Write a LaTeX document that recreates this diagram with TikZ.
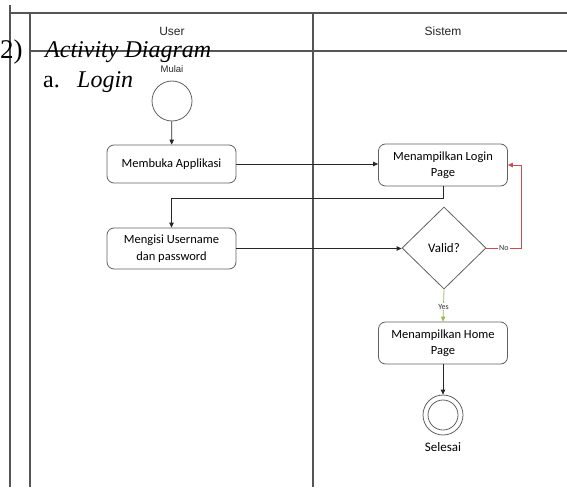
\documentclass[tikz,border=0pt]{standalone}
\usepackage{fontspec}
\usetikzlibrary{arrows.meta,shapes.geometric}
\newfontfamily\boxfont{Carlito}
\newfontfamily\lanefont{Liberation Sans}
\newfontfamily\docfont{Liberation Serif}
\definecolor{lanegray}{HTML}{555555}
\definecolor{boxgray}{HTML}{606060}
\definecolor{noline}{HTML}{C0504D}
\definecolor{yesline}{HTML}{9BBB59}
\tikzset{
  lane/.style={draw=lanegray, line width=1.2pt},
  action/.style={draw=boxgray, line width=0.8pt, rounded corners=7pt,
    minimum width=129pt, minimum height=40pt, align=center,
    font=\boxfont\fontsize{12.5}{16.5}\selectfont, inner sep=2pt},
  decision/.style={draw=boxgray, line width=0.8pt, diamond, aspect=1,
    minimum width=84pt, minimum height=82pt, inner sep=0pt,
    font=\boxfont\fontsize{13}{15}\selectfont},
  arr/.style={draw=black!85, line width=0.8pt, -{Triangle[length=5pt,width=4.5pt]}},
  guard/.style={fill=white, inner sep=1pt, text=black!80, font=\boxfont\fontsize{8}{9}\selectfont},
  heading/.style={anchor=base west, inner sep=0pt, font=\docfont\fontsize{24}{28}\selectfont},
  lanetitle/.style={inner sep=0pt, font=\lanefont\fontsize{12}{14}\selectfont, text=black!85}
}
\begin{document}
\begin{tikzpicture}[x=1pt, y=-1pt]
\useasboundingbox (0,0) rectangle (567,487);

% swimlane frame
\draw[lane] (10,5) -- (10,487);
\draw[lane] (10,13) -- (567,13);
\draw[lane] (30,13) -- (30,487);
\draw[lane] (30,51) -- (567,51);
\draw[lane] (313,13) -- (313,487);

\node[lanetitle] (userlane) at (172,31) {User};
\node[lanetitle] (systemlane) at (443,31) {Sistem};

% section heading
\node[heading, font=\docfont\fontsize{27}{30}\selectfont] (hnum) at (0,58.5) {2)};
\node[heading] (htitle) at (45,57.5) {\itshape Activity Diagram};
\node[heading] (hsub) at (43,87) {a.};
\node[heading] (hsubtitle) at (77,87) {\itshape Login};

% start node
\node[inner sep=0pt, font=\lanefont\fontsize{9.5}{11}\selectfont, text=black!85] (mulai) at (172,69) {Mulai};
\node[circle, draw=boxgray, line width=0.8pt, minimum size=40pt, inner sep=0pt] (start) at (172,101) {};

% actions
\node[action, minimum height=38pt] (membuka) at (171.5,164) {Membuka Applikasi};
\node[action, minimum height=42pt] (login) at (443,165) {Menampilkan Login\\Page};
\node[action, minimum height=41pt] (mengisi) at (171.5,248.5) {Mengisi Username\\dan password};
\node[decision] (valid) at (444,248) {Valid?};
\node[action, minimum height=42pt] (home) at (443,343) {Menampilkan Home\\Page};

% final node
\node[circle, draw=boxgray, line width=0.8pt, minimum size=40pt, inner sep=0pt] (finish) at (443,415) {};
\node[circle, draw=boxgray, line width=0.8pt, minimum size=30pt, inner sep=0pt] (finishin) at (finish) {};
\node[inner sep=0pt, font=\boxfont\fontsize{13}{15}\selectfont] (selesai) at (443,447) {Selesai};

% flows
\draw[arr] (start) -- (membuka);
\draw[arr] (membuka.east) -- (membuka.east -| login.west);
\draw[arr] (login.south) -- ++(0,12) -| (mengisi.north);
\draw[arr] (mengisi.east) -- (mengisi.east -| valid.west);
\draw[arr, draw=noline] (valid.east) -- node[guard] (nolabel) {No} ++(35,0) |- (login.east);
\draw[arr, draw=yesline] (valid.south) -- (home.north)
  node[midway, guard, yshift=-1pt] (yeslabel) {Yes};
\draw[arr] (home.south) -- (finish.north);
\end{tikzpicture}
\end{document}
